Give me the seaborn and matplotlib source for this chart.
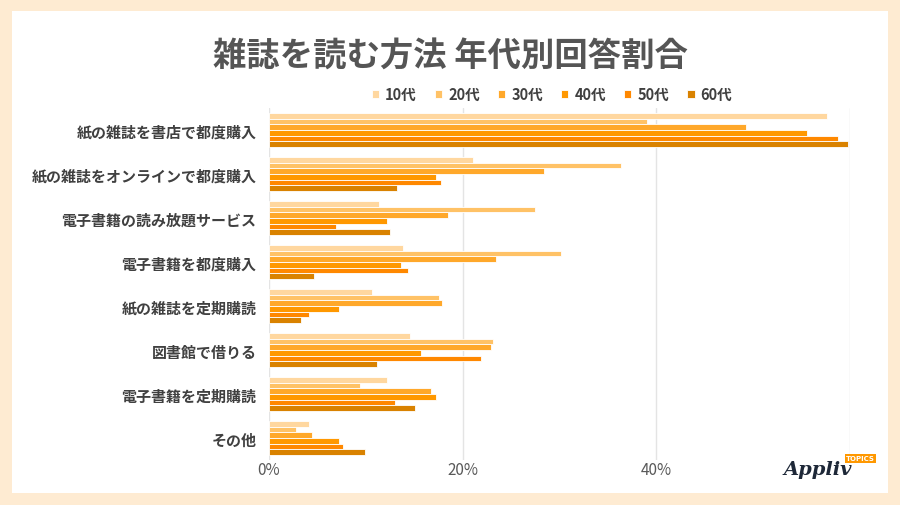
import matplotlib
matplotlib.use("Agg")
import matplotlib.pyplot as plt
import seaborn as sns
import pandas as pd
from matplotlib.patches import Rectangle

categories = ["紙の雑誌を書店で都度購入", "紙の雑誌をオンラインで都度購入", "電子書籍の読み放題サービス",
              "電子書籍を都度購入", "紙の雑誌を定期購読", "図書館で借りる", "電子書籍を定期購読", "その他"]
ages = ["10代", "20代", "30代", "40代", "50代", "60代"]
v10 = [57.6, 21.1, 11.4, 13.8, 10.6, 14.6, 12.2, 4.1]
v20 = [39.0, 36.3, 27.5, 30.2, 17.6, 23.1, 9.4, 2.8]
v30 = [49.3, 28.4, 18.5, 23.4, 17.9, 22.9, 16.7, 4.4]
v40 = [55.6, 17.2, 12.2, 13.6, 7.2, 15.7, 17.2, 7.2]
v50 = [58.8, 17.8, 6.9, 14.4, 4.1, 21.9, 13.0, 7.6]
v60 = [59.8, 13.2, 12.5, 4.6, 3.3, 11.2, 15.1, 9.9]
xticks = [0, 20, 40, 60]
xticklabels = ["0%", "20%", "40%", ""]
colors = ["#FFD79F", "#FFC266", "#FFA82A", "#FF9800", "#FF8800", "#D98200"]

rows = []
for age, vals in zip(ages, [v10, v20, v30, v40, v50, v60]):
    for c, v in zip(categories, vals):
        rows.append({"method": c, "age": age, "value": v})
df = pd.DataFrame(rows)

sns.set_theme(style="white")
plt.rcParams["font.family"] = ["Noto Sans CJK JP", "DejaVu Sans"]

fig = plt.figure(figsize=(9, 5.06), dpi=100)
fig.patch.set_facecolor("#FEEBD2")
fig.patches.append(Rectangle((12 / 900, 12 / 506), 876 / 900, 482 / 506, transform=fig.transFigure,
                             facecolor="white", edgecolor="none", zorder=-5))

ax = fig.add_axes([269 / 900, 1 - 461 / 506, (850 - 269) / 900, (461 - 109) / 506])
ax.set_facecolor("none")
sns.barplot(data=df, y="method", x="value", hue="age", palette=colors, orient="h",
            order=categories, hue_order=ages, width=0.76, edgecolor="white", linewidth=0.6,
            saturation=1, ax=ax, legend=True)

ax.set_xlim(0, 60)
ax.set_xticks(xticks)
ax.set_xticklabels(xticklabels, fontsize=11, color="#595959")
ax.tick_params(axis="y", labelsize=10.8, labelcolor="#404040", length=0, pad=9)
ax.tick_params(axis="x", length=0, pad=1)
for lbl in ax.get_yticklabels():
    lbl.set_fontweight("bold")
ax.set_xlabel("")
ax.set_ylabel("")
ax.xaxis.grid(True, color="#E4E4E4", linewidth=1)
ax.set_axisbelow(True)
for s in ax.spines.values():
    s.set_visible(False)

handles, labels = ax.get_legend_handles_labels()
ax.legend(handles, labels, loc="center", bbox_to_anchor=(552 / 900, 1 - 95 / 506),
          bbox_transform=fig.transFigure, ncol=6, frameon=False,
          handlelength=0.5, handleheight=0.5, handletextpad=0.4, columnspacing=1.25,
          labelcolor="#404040", prop={"weight": "bold", "size": 10.5})

fig.text(450 / 900, 1 - 57 / 506, "雑誌を読む方法 年代別回答割合", ha="center", va="center",
         fontsize=24, fontweight="bold", color="#555555")

# logo
fig.text(818 / 900, 1 - 470 / 506, "Appliv", ha="center", va="center", fontsize=14,
         fontstyle="italic", fontweight="bold", family="DejaVu Serif", color="#1E2838")
fig.patches.append(Rectangle((845 / 900, 1 - 464 / 506), 31 / 900, 9 / 506, transform=fig.transFigure,
                             facecolor="#FF9800", edgecolor="none", zorder=3))
fig.text(860.5 / 900, 1 - 459.5 / 506, "TOPICS", ha="center", va="center", fontsize=5,
         fontweight="bold", color="white", family="DejaVu Sans", zorder=4)

fig.savefig("out.png", dpi=100, facecolor=fig.get_facecolor())
